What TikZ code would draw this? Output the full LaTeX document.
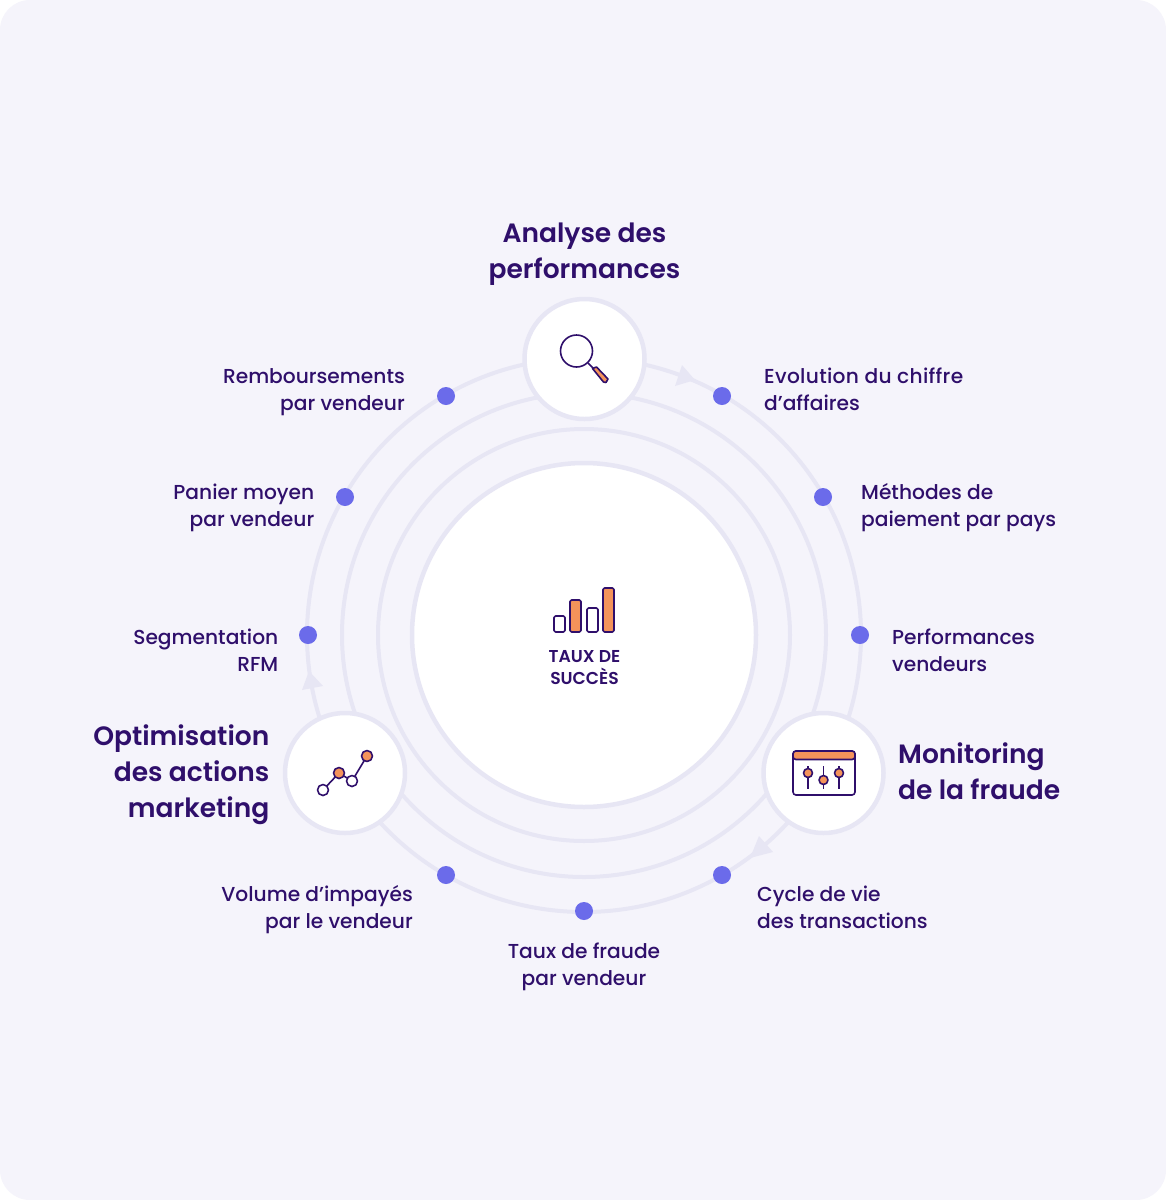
\documentclass[tikz,border=0pt]{standalone}
\usepackage{fontspec}
\usetikzlibrary{arrows.meta,calc}
\setmainfont{Poppins Medium}
\newfontfamily\headfont{Poppins SemiBold}
\definecolor{bgc}{HTML}{F5F4FB}
\definecolor{ringc}{HTML}{E7E6F4}
\definecolor{inkc}{HTML}{2F0F6B}
\definecolor{dotc}{HTML}{6B6BEA}
\definecolor{orangec}{HTML}{F4935A}
\tikzset{
 x=1pt,y=-1pt,
 ring/.style={draw=ringc,line width=4pt},
 hub/.style={circle,draw=ringc,line width=4.5pt,fill=white,minimum size=120pt,inner sep=0pt},
 kpi/.style={circle,fill=dotc,minimum size=18pt,inner sep=0pt},
 lab/.style={text=inkc,font=\fontsize{20.2}{27}\selectfont,inner sep=0pt},
 head/.style={text=inkc,font=\headfont\fontsize{26.5}{36}\selectfont,inner sep=0pt},
 icon/.style={draw=inkc,line width=1.6pt,line join=round},
 flow/.style={fill=ringc,draw=none},
}
\begin{document}
\begin{tikzpicture}
\useasboundingbox (0,0) rectangle (1166,1200);
\fill[white] (0,0) rectangle (1166,1200);
\fill[bgc,rounded corners=30pt] (0,0) rectangle (1166,1200);
\coordinate (c) at (584,635);
\draw[ring] (c) circle[radius=277];
\draw[ring] (c) circle[radius=242];
\draw[ring] (c) circle[radius=206];
\node[circle,draw=ringc,line width=4.5pt,fill=white,minimum size=344pt,inner sep=0pt] (core) at (c) {};
% arrowheads on the outer ring
\fill[flow] (695,380) -- (682,365) -- (675,386) -- cycle;
\fill[flow] (750,858) -- (759,836) -- (773,852) -- cycle;
\fill[flow] (309,671) -- (302,690) -- (323,686) -- cycle;
% hubs
\node[hub] (hubA) at (584.5,359) {};
\node[hub] (hubB) at (823.5,773) {};
\node[hub] (hubC) at (345,773) {};
% dots
\node[kpi] (d1) at (722,396) {};
\node[kpi] (d2) at (823,497) {};
\node[kpi] (d3) at (860,635) {};
\node[kpi] (d4) at (722,875) {};
\node[kpi] (d5) at (584,911) {};
\node[kpi] (d6) at (446,875) {};
\node[kpi] (d7) at (308,635) {};
\node[kpi] (d8) at (345,497) {};
\node[kpi] (d9) at (446,396) {};
% labels
\node[head,align=center] (tA) at (584.5,254) {Analyse des\\performances};
\node[head,align=left,anchor=west] (tB) at (898,771) {Monitoring\\de la fraude};
\node[head,align=right,anchor=east] (tC) at (269.5,775) {Optimisation\\des actions\\marketing};
\node[lab,align=left,anchor=west] (l1) at (764,389) {\addfontfeatures{LetterSpace=1.5}Evolution du chiffre\\d’affaires};
\node[lab,align=left,anchor=west] (l2) at (861,508) {Méthodes de\\paiement par pays};
\node[lab,align=left,anchor=west] (l3) at (892,650) {Performances\\vendeurs};
\node[lab,align=left,anchor=west] (l4) at (757,907) {Cycle de vie\\des transactions};
\node[lab,align=center] (l5) at (584,967) {Taux de fraude\\par vendeur};
\node[lab,align=right,anchor=east] (l6) at (413,910) {Volume d’impayés\\par le vendeur};
\node[lab,align=right,anchor=east] (l7) at (278.5,650) {Segmentation\\RFM};
\node[lab,align=right,anchor=east] (l8) at (314.5,508) {Panier moyen\\par vendeur};
\node[lab,align=right,anchor=east] (l9) at (405,392) {Remboursements\\par vendeur};
\node[text=inkc,font=\headfont\fontsize{17.2}{22}\selectfont,align=center,inner sep=0pt] (tc) at (584.5,668) {TAUX DE\\SUCCÈS};
% bars icon
\draw[icon,rounded corners=1.5pt] (554,616) rectangle (565,632);
\draw[icon,fill=orangec,rounded corners=1.5pt] (570,600) rectangle (581,632);
\draw[icon,rounded corners=1.5pt] (587,608) rectangle (598,632);
\draw[icon,fill=orangec,rounded corners=1.5pt] (603,588) rectangle (614,632);
% magnifier icon
\draw[icon] (576.5,351) circle[radius=16];
\draw[icon] (588,363) -- (594,369);
\draw[icon,fill=orangec] (592.5,368.5) -- (596.5,367) -- (608,379) -- (606,382.5) -- (603.5,382) -- cycle;
% sliders icon
\draw[icon,fill=white,rounded corners=3pt] (793,751) rectangle (855,795);
\draw[icon,fill=orangec,rounded corners=3pt] (793,759.5) -- (793,751) -- (855,751) -- (855,759.5) -- cycle;
\draw[icon] (808,766) -- (808,789);
\draw[icon] (823.5,766) -- (823.5,789);
\draw[icon] (839,766) -- (839,789);
\draw[icon,fill=orangec] (808,773) circle[radius=4.5];
\draw[icon,fill=orangec] (823.5,780) circle[radius=4.5];
\draw[icon,fill=orangec] (839,773) circle[radius=4.5];
% chart icon
\draw[icon] (323,790) -- (339,773) -- (352,781) -- (367,756);
\draw[icon,fill=white] (323,790) circle[radius=5.5];
\draw[icon,fill=orangec] (339,773) circle[radius=5.5];
\draw[icon,fill=white] (352,781) circle[radius=5.5];
\draw[icon,fill=orangec] (367,756) circle[radius=5.5];
\end{tikzpicture}
\end{document}
